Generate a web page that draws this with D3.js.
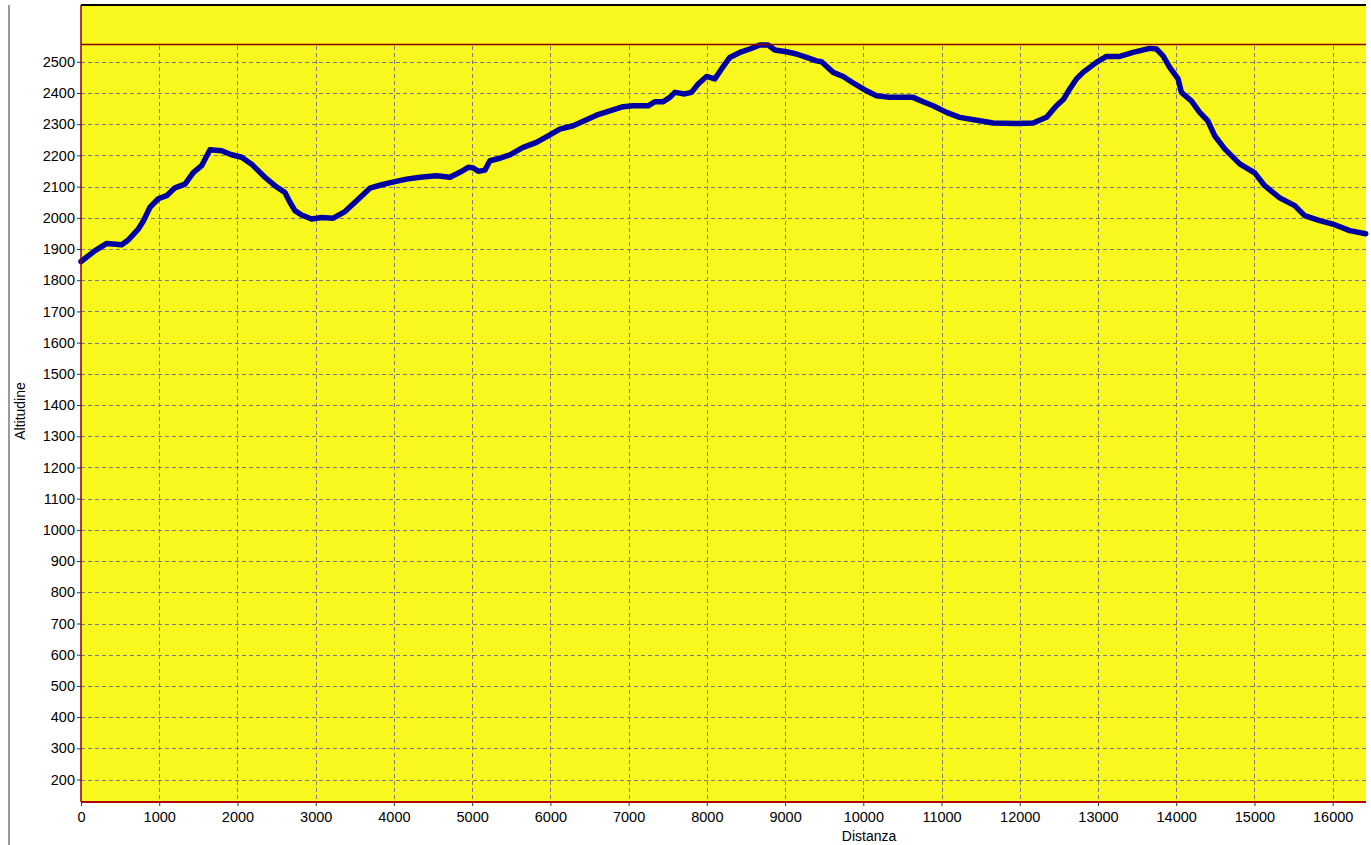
<!DOCTYPE html>
<html>
<head>
<meta charset="utf-8">
<script src="https://cdn.jsdelivr.net/npm/d3@7/dist/d3.min.js"></script>
<style>
  html, body { margin: 0; padding: 0; background: #ffffff; }
  svg { display: block; }
  .tick text { font-family: "Liberation Sans", Arial, sans-serif; font-size: 14.5px; fill: #000; }
</style>
</head>
<body>
<svg id="chart" width="1371" height="845"></svg>
<script>
// Distance (m) along the track
const distanza = [
  0, 180, 330, 520, 605, 733, 797, 882, 988, 1095, 1201, 1329, 1435, 1542, 1649, 1798,
  1925, 2053, 2181, 2351, 2479, 2607, 2671, 2735, 2820, 2948, 3076, 3225, 3374, 3523,
  3693, 3843, 4013, 4162, 4332, 4545, 4716, 4843, 4950, 5014, 5078, 5163, 5227, 5355,
  5482, 5652, 5823, 5994, 6121, 6292, 6462, 6590, 6760, 6930, 7058, 7250, 7335, 7442,
  7527, 7591, 7719, 7804, 7889, 7996, 8102, 8188, 8294, 8422, 8550, 8678, 8784, 8869,
  9018, 9146, 9274, 9402, 9466, 9615, 9743, 9891, 10041, 10169, 10339, 10637, 10765,
  10893, 11063, 11233, 11489, 11659, 11958, 12171, 12341, 12469, 12560, 12639, 12724,
  12809, 12895, 12980, 13108, 13278, 13448, 13661, 13747, 13832, 13917, 14024, 14066,
  14194, 14300, 14403, 14492, 14620, 14812, 15003, 15131, 15323, 15515, 15642, 15834,
  16026, 16218, 16422
];
// Altitude (m)
const altitudine = [
  1860, 1895, 1918, 1914, 1929, 1964, 1990, 2034, 2061, 2071, 2096, 2108, 2145, 2167, 2218, 2215,
  2202, 2194, 2172, 2130, 2103, 2081, 2050, 2023, 2009, 1996, 2001, 1999, 2020, 2055,
  2095, 2106, 2116, 2124, 2130, 2135, 2130, 2146, 2162, 2160, 2149, 2153, 2183, 2191,
  2202, 2226, 2242, 2266, 2284, 2295, 2314, 2329, 2343, 2356, 2359, 2359, 2372, 2372,
  2386, 2402, 2397, 2402, 2429, 2453, 2445, 2477, 2514, 2530, 2541, 2554, 2554, 2538,
  2532, 2525, 2514, 2503, 2500, 2466, 2453, 2429, 2407, 2391, 2386, 2386, 2372,
  2359, 2338, 2322, 2311, 2304, 2302, 2304, 2322, 2359, 2380, 2413, 2445,
  2466, 2482, 2498, 2517, 2517, 2530, 2543, 2541, 2519, 2482, 2445, 2402,
  2375, 2338, 2311, 2263, 2221, 2173, 2144, 2103, 2064, 2039, 2007, 1991,
  1978, 1959, 1949
];
const xTicks = d3.range(0, 16001, 1000);
const yTicks = d3.range(200, 2501, 100);
const xDomain = [0, 16426];
const yDomain = [128, 2682];

(function () {
const svg = d3.select("#chart");
const pL = 81, pR = 1366, pT = 5, pB = 802;

const x = d3.scaleLinear().domain(xDomain).range([pL, pR]);
const y = d3.scaleLinear().domain(yDomain).range([pB, pT]);

// outer gray vertical rule
svg.append("line").attr("x1", 9).attr("x2", 9).attr("y1", 5).attr("y2", 845)
  .attr("stroke", "#9a9a9a").attr("stroke-width", 2);

// plot background
svg.append("rect").attr("x", pL).attr("y", pT)
  .attr("width", pR - pL).attr("height", pB - pT)
  .attr("fill", "#f8f81f");

// grid
const grid = svg.append("g").attr("stroke", "#7c7c7c").attr("stroke-width", 1)
  .attr("stroke-dasharray", "4,3").attr("shape-rendering", "crispEdges");
grid.selectAll(".gx").data(xTicks.filter(d => d > 0)).join("line")
  .attr("x1", d => Math.round(x(d)) + 0.5).attr("x2", d => Math.round(x(d)) + 0.5)
  .attr("y1", 46).attr("y2", pB);
grid.selectAll(".gy").data(yTicks).join("line")
  .attr("y1", d => Math.round(y(d)) + 0.5).attr("y2", d => Math.round(y(d)) + 0.5)
  .attr("x1", pL).attr("x2", pR);

// axes (ticks and labels)
const yAxis = d3.axisLeft(y).tickValues(yTicks).tickSize(4).tickPadding(2).tickFormat(d3.format("d"));
const gy = svg.append("g").attr("transform", `translate(${pL},0)`).call(yAxis);
gy.select(".domain").remove();
gy.selectAll(".tick line").attr("stroke", "#303030");

const xAxis = d3.axisBottom(x).tickValues(xTicks).tickSize(4).tickPadding(6).tickFormat(d3.format("d"));
const gx = svg.append("g").attr("transform", `translate(0,${pB})`).call(xAxis);
gx.select(".domain").remove();
gx.selectAll(".tick line").attr("stroke", "#303030");

// profile line
const pts = distanza.map((d, i) => [d, altitudine[i]]);
const line = d3.line().x(d => x(d[0])).y(d => y(d[1]));
svg.append("path").datum(pts).attr("d", line)
  .attr("fill", "none").attr("stroke", "#0000a0").attr("stroke-width", 5.5)
  .attr("stroke-linejoin", "round").attr("stroke-linecap", "round");

// max altitude line
const maxAlt = d3.max(altitudine);
svg.append("line").attr("x1", pL).attr("x2", pR)
  .attr("y1", y(maxAlt) - 0.5).attr("y2", y(maxAlt) - 0.5)
  .attr("stroke", "#8b0000").attr("stroke-width", 1.5);

// borders
svg.append("line").attr("x1", pL).attr("x2", pR).attr("y1", pT).attr("y2", pT)
  .attr("stroke", "#000").attr("stroke-width", 2);
svg.append("line").attr("x1", pL).attr("x2", pL).attr("y1", pT).attr("y2", pB)
  .attr("stroke", "#8b0000").attr("stroke-width", 1.5);
svg.append("line").attr("x1", pL).attr("x2", pR).attr("y1", pB).attr("y2", pB)
  .attr("stroke", "#b00000").attr("stroke-width", 2);

// axis titles
svg.append("text").attr("x", 869).attr("y", 841).attr("text-anchor", "middle")
  .style("font-family", "'Liberation Sans', Arial, sans-serif").style("font-size", "14px")
  .text("Distanza");
svg.append("text").attr("transform", "translate(25,411) rotate(-90)").attr("text-anchor", "middle")
  .style("font-family", "'Liberation Sans', Arial, sans-serif").style("font-size", "14px")
  .text("Altitudine");
})();
</script>
</body>
</html>
